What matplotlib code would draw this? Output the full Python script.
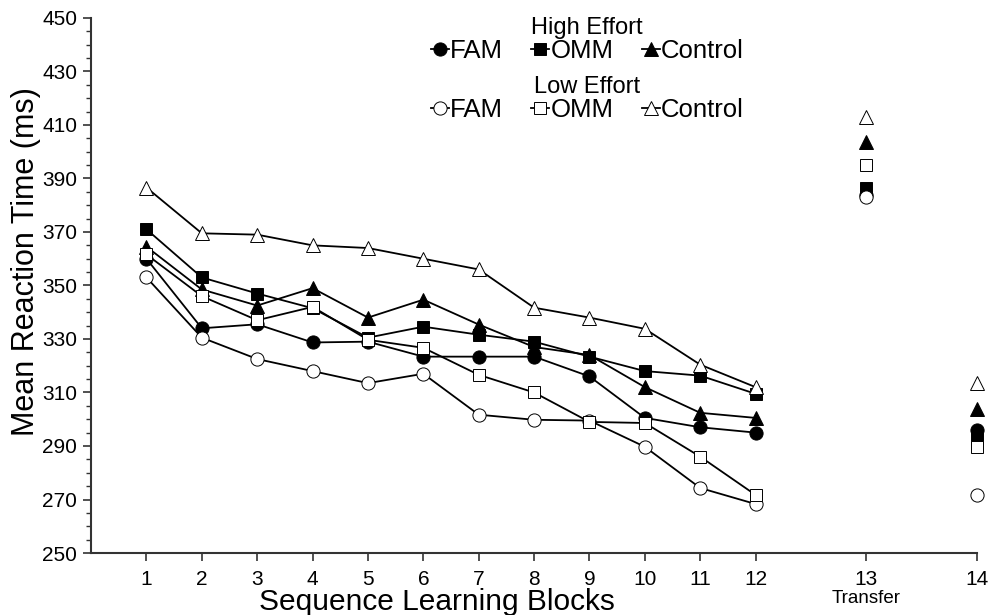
import matplotlib
matplotlib.use('Agg')
import matplotlib.pyplot as plt
import numpy as np
from matplotlib.ticker import FixedLocator

plt.rcParams['font.family'] = ['Liberation Sans', 'DejaVu Sans']

# blocks 1-12 = sequence learning, 13 = transfer, 14 = final
block_labels = [str(i) for i in range(1, 15)]
block_pos = list(range(1, 13)) + [14, 16]

hi_fam = [360, 334, 335.5, 328.7, 329, 323.4, 323.4, 323.4, 316, 300.5, 297, 295, 384, 296]
hi_omm = [371, 353, 347, 341.5, 330.5, 334.6, 331.6, 329, 323.4, 318, 316.3, 309.5, 386.5, 293]
hi_ctrl = [364.5, 348.5, 342.5, 349, 338, 344.7, 335.4, 327, 324, 312, 302.4, 300.5, 403.5, 304]
lo_fam = [353, 330.5, 322.5, 318, 313.5, 317, 301.7, 299.8, 299.5, 289.7, 274.3, 268.3, 383, 271.7]
lo_omm = [361.6, 346, 337, 342, 329.7, 326.7, 316.6, 310, 299, 298.6, 286, 271.7, 395, 289.7]
lo_ctrl = [386.6, 369.5, 369, 365, 364, 360, 356, 341.7, 338, 333.8, 320.4, 312, 413, 313.5]

fig = plt.figure(figsize=(9.9, 6.15), dpi=100)
ax = fig.add_axes([0.092, 0.1008, 0.895, 0.870])

series = [
    (hi_fam, 'o', 'black', 9.5),
    (hi_ctrl, '^', 'black', 10.5),
    (hi_omm, 's', 'black', 9),
    (lo_fam, 'o', 'white', 9.5),
    (lo_omm, 's', 'white', 9),
    (lo_ctrl, '^', 'white', 10.5),
]
for vals, mk, fc, ms in series:
    ax.plot(block_pos[:12], vals[:12], color='black', lw=1.3, marker=mk,
            markersize=ms, markerfacecolor=fc, markeredgecolor='black',
            markeredgewidth=0.7, zorder=3)
    ax.plot(block_pos[12:], vals[12:], linestyle='none', marker=mk,
            markersize=ms, markerfacecolor=fc, markeredgecolor='black',
            markeredgewidth=0.7, zorder=3, clip_on=False)

ax.set_xlim(0, 16)
ax.set_ylim(250, 450)
ax.set_xticks(block_pos)
ax.set_xticklabels(block_labels)
ax.yaxis.set_major_locator(FixedLocator(np.arange(250, 451, 20)))
ax.yaxis.set_minor_locator(FixedLocator(np.arange(250, 451, 5)))
ax.tick_params(axis='both', which='major', labelsize=15, length=6, width=1.2,
               color='#333333', pad=4)
ax.tick_params(axis='y', which='minor', length=3.5, width=1, color='#333333')
ax.tick_params(axis='x', pad=6)
for s in ['top', 'right']:
    ax.spines[s].set_visible(False)
for s in ['left', 'bottom']:
    ax.spines[s].set_linewidth(1.5)
    ax.spines[s].set_color('#333333')

ax.set_ylabel('Mean Reaction Time (ms)', fontsize=22)
ax.yaxis.set_label_coords(-0.056, 0.544)
ax.set_xlabel('Sequence Learning Blocks', fontsize=21.5)
ax.xaxis.set_label_coords(0.39, -0.066)
ax.text(14, -0.085, 'Transfer', transform=ax.get_xaxis_transform(),
        ha='center', va='center', fontsize=13.5)

def handle(mk, fc, ms):
    return plt.Line2D([], [], color='black', lw=1.3, marker=mk, markersize=ms,
                      markerfacecolor=fc, markeredgecolor='black', markeredgewidth=0.7)

names = ['FAM', 'OMM', 'Control']
hi_handles = [handle('o', 'black', 9.5), handle('s', 'black', 9), handle('^', 'black', 10.5)]
lo_handles = [handle('o', 'white', 9.5), handle('s', 'white', 9), handle('^', 'white', 10.5)]

leg_kw = dict(ncol=3, frameon=False, fontsize=18.5, title_fontsize=17,
              handlelength=0.7, handletextpad=0.05, columnspacing=1.1,
              loc='upper center', borderpad=0, labelspacing=0)
leg1 = ax.legend(hi_handles, names, title='High Effort',
                 bbox_to_anchor=(0.56, 1.026), **leg_kw)
ax.add_artist(leg1)
ax.legend(lo_handles, names, title='Low Effort',
          bbox_to_anchor=(0.56, 0.915), **leg_kw)

fig.savefig('out.png', dpi=100)
